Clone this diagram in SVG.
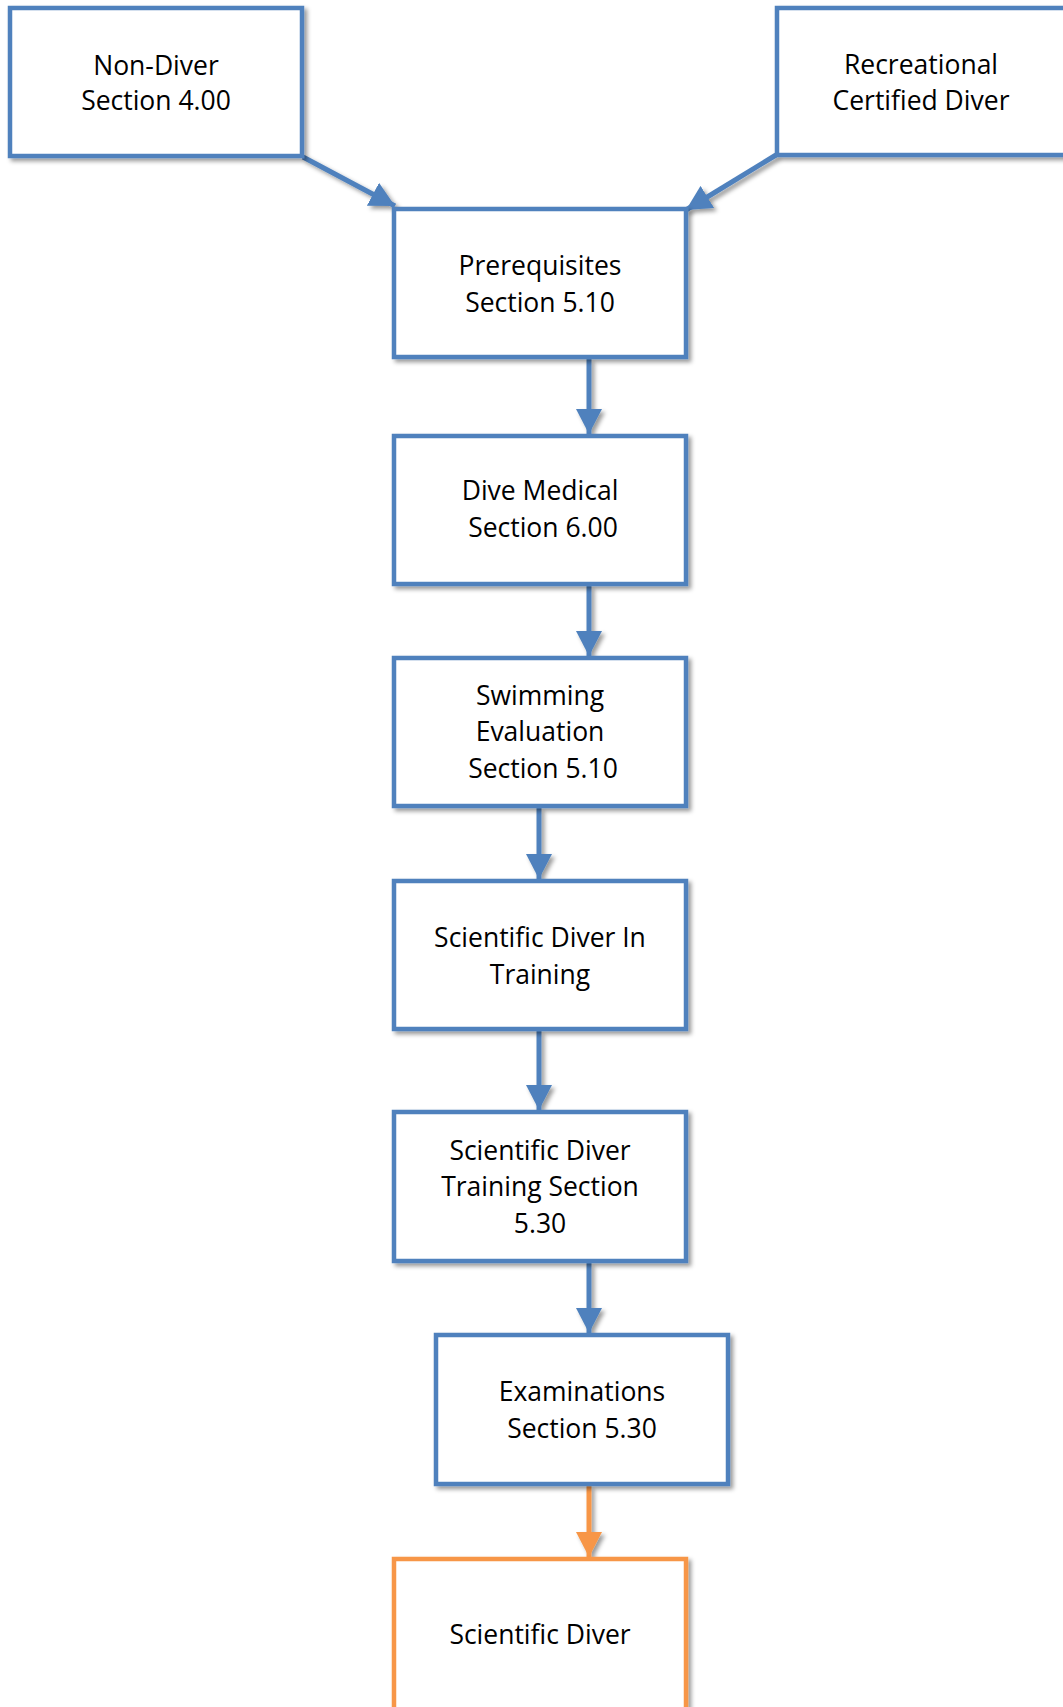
<svg xmlns="http://www.w3.org/2000/svg" width="1063" height="1707" viewBox="0 0 1063 1707">
  <style>
    .box { fill: #ffffff; stroke: #4F81BD; stroke-width: 4.5; }
    .box.final { stroke: #F79646; }
    .lbl { font-family: "Open Sans", "Noto Sans", "Liberation Sans", sans-serif; font-size: 26.5px; fill: #000000; text-anchor: middle; }
    .conn { stroke: #4F81BD; stroke-width: 5; fill: none; }
    .conn.final { stroke: #F79646; }
  </style>
  <defs>
    <filter id="sh" x="-10%" y="-10%" width="130%" height="130%">
      <feDropShadow dx="3" dy="3" stdDeviation="2" flood-color="#000000" flood-opacity="0.4"/>
    </filter>
    <marker id="ab" viewBox="0 0 25 26" refX="25" refY="13" markerWidth="25" markerHeight="26" markerUnits="userSpaceOnUse" orient="auto">
      <path d="M0,0 L25,13 L0,26 Z" fill="#4F81BD"/>
    </marker>
    <marker id="ao" viewBox="0 0 25 26" refX="25" refY="13" markerWidth="25" markerHeight="26" markerUnits="userSpaceOnUse" orient="auto">
      <path d="M0,0 L25,13 L0,26 Z" fill="#F79646"/>
    </marker>
  </defs>
  <rect width="1063" height="1707" fill="#ffffff"/>

  <g id="connectors" filter="url(#sh)">
    <path class="conn" d="M303,157 L395,206" marker-end="url(#ab)"/>
    <path class="conn" d="M776,155 L686,210" marker-end="url(#ab)"/>
    <path class="conn" d="M589,359 L589,434" marker-end="url(#ab)"/>
    <path class="conn" d="M589,586 L589,656" marker-end="url(#ab)"/>
    <path class="conn" d="M539,808 L539,879" marker-end="url(#ab)"/>
    <path class="conn" d="M539,1031 L539,1110" marker-end="url(#ab)"/>
    <path class="conn" d="M589,1263 L589,1333" marker-end="url(#ab)"/>
    <path class="conn final" d="M589,1486 L589,1557" marker-end="url(#ao)"/>
  </g>

  <g id="non-diver">
    <rect class="box" x="10" y="8" width="292" height="148" filter="url(#sh)"/>
    <text class="lbl" x="156" y="75">Non-Diver</text>
    <text class="lbl" x="156" y="110">Section 4.00</text>
  </g>
  <g id="recreational">
    <rect class="box" x="777" y="8" width="290" height="147" filter="url(#sh)"/>
    <text class="lbl" x="921" y="74">Recreational</text>
    <text class="lbl" x="921" y="110">Certified Diver</text>
  </g>
  <g id="prerequisites">
    <rect class="box" x="394" y="209" width="292" height="148" filter="url(#sh)"/>
    <text class="lbl" x="540" y="275">Prerequisites</text>
    <text class="lbl" x="540" y="312">Section 5.10</text>
  </g>
  <g id="dive-medical">
    <rect class="box" x="394" y="436" width="292" height="148" filter="url(#sh)"/>
    <text class="lbl" x="540" y="500">Dive Medical</text>
    <text class="lbl" x="543" y="537">Section 6.00</text>
  </g>
  <g id="swimming">
    <rect class="box" x="394" y="658" width="292" height="148" filter="url(#sh)"/>
    <text class="lbl" x="540" y="705">Swimming</text>
    <text class="lbl" x="540" y="741">Evaluation</text>
    <text class="lbl" x="543" y="778">Section 5.10</text>
  </g>
  <g id="sdit">
    <rect class="box" x="394" y="881" width="292" height="148" filter="url(#sh)"/>
    <text class="lbl" x="540" y="947">Scientific Diver In</text>
    <text class="lbl" x="540" y="984">Training</text>
  </g>
  <g id="sdt">
    <rect class="box" x="394" y="1112" width="292" height="149" filter="url(#sh)"/>
    <text class="lbl" x="540" y="1160">Scientific Diver</text>
    <text class="lbl" x="540" y="1196">Training Section</text>
    <text class="lbl" x="540" y="1233">5.30</text>
  </g>
  <g id="examinations">
    <rect class="box" x="436" y="1335" width="292" height="149" filter="url(#sh)"/>
    <text class="lbl" x="582" y="1401">Examinations</text>
    <text class="lbl" x="582" y="1438">Section 5.30</text>
  </g>
  <g id="scientific-diver">
    <rect class="box final" x="394" y="1559" width="292" height="160" filter="url(#sh)"/>
    <text class="lbl" x="540" y="1644">Scientific Diver</text>
  </g>
</svg>
